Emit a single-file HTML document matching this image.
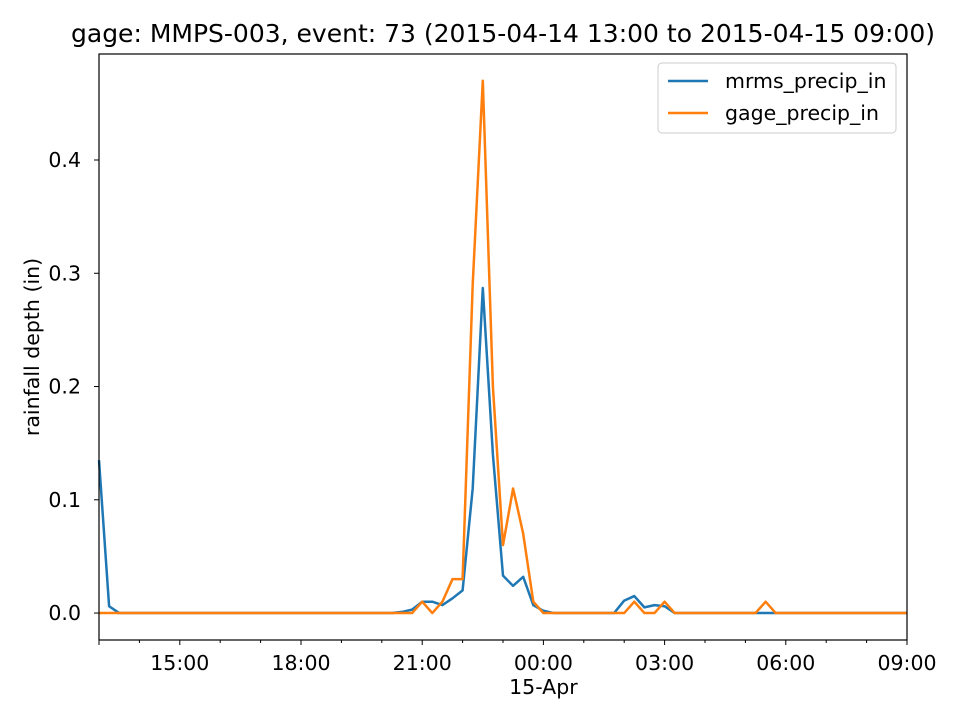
<!DOCTYPE html>
<html><head><meta charset="utf-8"><style>
body{margin:0;background:#fff}
svg{font-family:"DejaVu Sans","Liberation Sans",sans-serif}
</style></head><body>
<svg id="chart" width="960" height="720">
<rect width="960" height="720" fill="#fff"/>
<text x="503" y="42" font-size="25" text-anchor="middle" textLength="864" lengthAdjust="spacingAndGlyphs">gage: MMPS-003, event: 73 (2015-04-14 13:00 to 2015-04-15 09:00)</text>
<g id="plot"></g>
<rect x="99" y="54" width="808" height="586" fill="none" stroke="#000" stroke-width="1.2"/>
<text transform="translate(39,347) rotate(-90)" font-size="20.5" text-anchor="middle">rainfall depth (in)</text>
<g>
<rect x="658" y="63" width="238" height="70" rx="4" fill="#fff" fill-opacity="0.8" stroke="#ccc"/>
<line x1="668" y1="81" x2="708" y2="81" stroke="#1f77b4" stroke-width="2.5"/>
<text x="725" y="88" font-size="20.5">mrms_precip_in</text>
<line x1="668" y1="113" x2="708" y2="113" stroke="#ff7f0e" stroke-width="2.5"/>
<text x="725" y="120" font-size="20.5">gage_precip_in</text>
</g>
</svg>
<script>
const yTicks=[0.0,0.1,0.2,0.3,0.4];
const xTickHours=[2,5,8,11,14,17,20];
const xTickLabels=["15:00","18:00","21:00","00:00","03:00","06:00","09:00"];
const mrms=[0.135,0.006,0,0,0,0,0,0,0,0,0,0,0,0,0,0,0,0,0,0,0,0,0,0,0,0,0,0,0,0,0.001,0.003,0.01,0.01,0.007,0.013,0.02,0.11,0.287,0.14,0.033,0.024,0.032,0.007,0.002,0,0,0,0,0,0,0,0.011,0.015,0.005,0.007,0.006,0,0,0,0,0,0,0,0,0,0,0,0,0,0,0,0,0,0,0,0,0,0,0,0];
const gage=[0,0,0,0,0,0,0,0,0,0,0,0,0,0,0,0,0,0,0,0,0,0,0,0,0,0,0,0,0,0,0,0,0.01,0,0.01,0.03,0.03,0.29,0.47,0.2,0.06,0.11,0.07,0.01,0,0,0,0,0,0,0,0,0,0.01,0,0,0.01,0,0,0,0,0,0,0,0,0,0.01,0,0,0,0,0,0,0,0,0,0,0,0,0,0];
const NS="http://www.w3.org/2000/svg";
const g=document.getElementById('plot');
const X0=99,X1=907,Y0=640,Y1=54,yMin=-0.0238,yMax=0.4936,hours=20;
const xs=h=>X0+(X1-X0)*h/hours;
const ys=v=>Y0-(Y0-Y1)*(v-yMin)/(yMax-yMin);
function mk(t,a){const e=document.createElementNS(NS,t);for(const k in a)e.setAttribute(k,a[k]);g.appendChild(e);return e;}
yTicks.forEach(v=>{
 const l=mk('line',{x1:X0-5,x2:X0,y1:ys(v),y2:ys(v),stroke:'#000'});
 
 
 const t=mk('text',{x:81,y:ys(v)+7,'font-size':20.5,'text-anchor':'end'});t.textContent=v.toFixed(1);
 
 
});
for(let h=0;h<=hours;h++){
 const major=xTickHours.includes(h)||h===0;
 const l=mk('line',{x1:xs(h),x2:xs(h),y1:Y0,y2:Y0+(major?5:3),stroke:'#000'});
 
 
}
xTickHours.forEach((h,i)=>{
 const t=mk('text',{x:xs(h),y:670,'font-size':20.5,'text-anchor':'middle'});t.textContent=xTickLabels[i];
 
 
});
const d=mk('text',{x:xs(11),y:694,'font-size':20.5,'text-anchor':'middle'});d.textContent='15-Apr';


function line(arr,c,name){
 const pts=arr.map((v,i)=>xs(i*0.25).toFixed(2)+','+ys(v).toFixed(2)).join(' ');
 const p=mk('polyline',{points:pts,fill:'none',stroke:c,'stroke-width':2.5,'stroke-linejoin':'round'});
 
 
}
line(mrms,'#1f77b4','mrms-line');
line(gage,'#ff7f0e','gage-line');
</script>
</body></html>
